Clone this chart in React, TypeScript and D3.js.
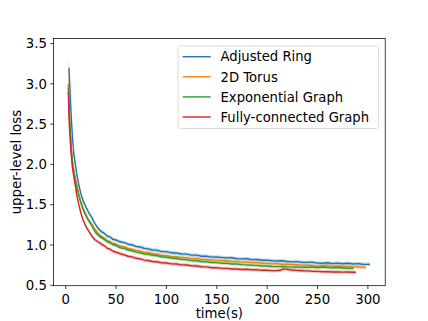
import React from "react";
import * as d3 from "d3";

const W = 428;
const H = 321;

const xTicks = [0, 50, 100, 150, 200, 250, 300];
const yTicks = [0.5, 1.0, 1.5, 2.0, 2.5, 3.0, 3.5];
const seriesNames = ["Adjusted Ring", "2D Torus", "Exponential Graph", "Fully-connected Graph"];
const seriesColors = ["#1f77b4", "#ff7f0e", "#2ca02c", "#d62728"];

const blueTime = [3.3, 5, 6.5, 8, 9.5, 11, 13, 15, 17, 19, 21, 23, 26, 29, 32, 35, 38, 41, 44, 47, 50, 54, 58, 62, 66, 70, 74, 78, 82, 86, 90, 95, 100, 105, 110, 115, 120, 125, 130, 135, 140, 145, 150, 155, 160, 165, 170, 175, 180, 185, 190, 195, 200, 205, 210, 215, 220, 225, 230, 235, 240, 245, 250, 255, 260, 265, 270, 275, 280, 285, 290, 295, 302];
const blueLoss = [3.2, 2.72, 2.38, 2.14, 2.01, 1.88, 1.75, 1.64, 1.56, 1.5, 1.45, 1.4, 1.34, 1.265, 1.21, 1.17, 1.148, 1.112, 1.1, 1.07, 1.062, 1.04, 1.03, 1.01, 1.0, 0.982, 0.975, 0.958, 0.952, 0.938, 0.937, 0.92, 0.918, 0.903, 0.9, 0.888, 0.887, 0.874, 0.874, 0.861, 0.86, 0.85, 0.851, 0.844, 0.84, 0.841, 0.83, 0.828, 0.829, 0.819, 0.82, 0.81, 0.812, 0.804, 0.801, 0.804, 0.795, 0.79, 0.794, 0.785, 0.784, 0.786, 0.775, 0.773, 0.779, 0.769, 0.775, 0.767, 0.773, 0.764, 0.769, 0.761, 0.76];
const blueStd = [0.12, 0.08, 0.05, 0.04, 0.035, 0.03, 0.03, 0.028, 0.026, 0.026, 0.025, 0.025, 0.025, 0.024, 0.024, 0.023, 0.024, 0.022, 0.023, 0.022, 0.022, 0.023, 0.022, 0.022, 0.023, 0.022, 0.022, 0.023, 0.022, 0.022, 0.023, 0.022, 0.022, 0.023, 0.022, 0.022, 0.023, 0.022, 0.022, 0.023, 0.022, 0.022, 0.023, 0.022, 0.022, 0.023, 0.022, 0.022, 0.023, 0.022, 0.022, 0.023, 0.022, 0.022, 0.023, 0.022, 0.022, 0.023, 0.022, 0.022, 0.023, 0.022, 0.022, 0.023, 0.022, 0.022, 0.023, 0.022, 0.022, 0.023, 0.022, 0.022, 0.022];

const orangeTime = [2.5, 4, 5.5, 7, 8.5, 10, 11.5, 13, 15, 17, 19, 21, 23, 26, 29, 32, 35, 38, 41, 44, 47, 50, 54, 58, 62, 66, 70, 74, 78, 82, 86, 90, 95, 100, 105, 110, 115, 120, 125, 130, 135, 140, 145, 150, 155, 160, 165, 170, 175, 180, 185, 190, 195, 200, 205, 210, 215, 220, 225, 230, 235, 240, 245, 250, 255, 260, 265, 270, 275, 280, 285, 290, 295, 298];
const orangeLoss = [3.0, 2.55, 2.22, 2.02, 1.9, 1.81, 1.73, 1.64, 1.55, 1.47, 1.41, 1.355, 1.31, 1.26, 1.195, 1.15, 1.11, 1.088, 1.057, 1.043, 1.018, 1.012, 0.987, 0.978, 0.957, 0.948, 0.932, 0.925, 0.909, 0.907, 0.892, 0.89, 0.873, 0.868, 0.858, 0.854, 0.844, 0.842, 0.831, 0.832, 0.822, 0.82, 0.813, 0.812, 0.804, 0.805, 0.796, 0.797, 0.788, 0.79, 0.782, 0.782, 0.774, 0.774, 0.768, 0.768, 0.761, 0.762, 0.756, 0.757, 0.75, 0.752, 0.746, 0.735, 0.742, 0.745, 0.738, 0.74, 0.733, 0.735, 0.728, 0.73, 0.724, 0.723];
const orangeStd = [0.4, 0.15, 0.08, 0.05, 0.04, 0.035, 0.03, 0.03, 0.028, 0.026, 0.025, 0.025, 0.025, 0.024, 0.024, 0.023, 0.024, 0.022, 0.023, 0.022, 0.022, 0.023, 0.022, 0.022, 0.023, 0.022, 0.022, 0.023, 0.022, 0.022, 0.023, 0.022, 0.022, 0.023, 0.022, 0.022, 0.023, 0.022, 0.022, 0.023, 0.022, 0.022, 0.023, 0.022, 0.022, 0.023, 0.022, 0.022, 0.023, 0.022, 0.022, 0.023, 0.022, 0.022, 0.023, 0.022, 0.022, 0.023, 0.022, 0.022, 0.023, 0.022, 0.022, 0.023, 0.022, 0.022, 0.023, 0.022, 0.022, 0.023, 0.022, 0.022, 0.023, 0.022];

const greenTime = [2.7, 4, 5.5, 7, 8.5, 10, 11.5, 13, 15, 17, 19, 21, 23, 26, 29, 32, 35, 38, 41, 44, 47, 50, 54, 58, 62, 66, 70, 74, 78, 82, 86, 90, 95, 100, 105, 110, 115, 120, 125, 130, 135, 140, 145, 150, 155, 160, 165, 170, 175, 180, 185, 190, 195, 200, 205, 210, 215, 220, 225, 230, 235, 240, 245, 250, 255, 260, 265, 270, 275, 280, 285.7];
const greenLoss = [2.95, 2.55, 2.2, 1.98, 1.86, 1.77, 1.69, 1.61, 1.52, 1.45, 1.39, 1.34, 1.295, 1.24, 1.165, 1.125, 1.095, 1.072, 1.043, 1.028, 1.003, 0.993, 0.966, 0.958, 0.938, 0.928, 0.912, 0.903, 0.888, 0.885, 0.872, 0.87, 0.854, 0.848, 0.838, 0.832, 0.821, 0.817, 0.806, 0.804, 0.795, 0.792, 0.783, 0.782, 0.773, 0.774, 0.764, 0.764, 0.756, 0.754, 0.748, 0.747, 0.74, 0.739, 0.733, 0.732, 0.735, 0.728, 0.726, 0.729, 0.723, 0.723, 0.726, 0.719, 0.727, 0.721, 0.717, 0.72, 0.714, 0.712, 0.71];
const greenStd = [0.3, 0.12, 0.07, 0.05, 0.04, 0.035, 0.03, 0.03, 0.028, 0.026, 0.025, 0.025, 0.025, 0.024, 0.024, 0.023, 0.024, 0.022, 0.023, 0.022, 0.022, 0.023, 0.022, 0.022, 0.023, 0.022, 0.022, 0.023, 0.022, 0.022, 0.023, 0.022, 0.022, 0.023, 0.022, 0.022, 0.023, 0.022, 0.022, 0.023, 0.022, 0.022, 0.023, 0.022, 0.022, 0.023, 0.022, 0.022, 0.023, 0.022, 0.022, 0.023, 0.022, 0.022, 0.023, 0.022, 0.022, 0.023, 0.022, 0.022, 0.023, 0.022, 0.022, 0.023, 0.022, 0.022, 0.023, 0.022, 0.022, 0.023, 0.022];

const redTime = [2.5, 4, 5.3, 6.5, 8, 9.2, 11, 13, 15, 17, 19, 21, 23, 26, 29, 32, 35, 38, 41, 44, 47, 50, 54, 58, 62, 66, 70, 74, 78, 82, 86, 90, 95, 100, 105, 110, 115, 120, 125, 130, 135, 140, 145, 150, 155, 160, 165, 170, 175, 180, 185, 190, 195, 200, 205, 210, 213, 216, 220, 224, 228, 232, 236, 240, 245, 250, 255, 260, 265, 270, 275, 280, 285, 288];
const redLoss = [2.9, 2.4, 2.15, 1.98, 1.85, 1.77, 1.62, 1.5, 1.4, 1.32, 1.26, 1.21, 1.17, 1.11, 1.065, 1.04, 1.015, 0.993, 0.962, 0.948, 0.922, 0.91, 0.892, 0.878, 0.86, 0.852, 0.835, 0.827, 0.812, 0.807, 0.795, 0.792, 0.779, 0.777, 0.766, 0.764, 0.754, 0.752, 0.743, 0.74, 0.73, 0.728, 0.718, 0.717, 0.71, 0.71, 0.703, 0.702, 0.696, 0.699, 0.692, 0.692, 0.686, 0.687, 0.682, 0.683, 0.686, 0.704, 0.698, 0.69, 0.686, 0.684, 0.68, 0.679, 0.674, 0.673, 0.668, 0.67, 0.665, 0.667, 0.663, 0.665, 0.661, 0.662];
const redStd = [0.35, 0.14, 0.07, 0.05, 0.04, 0.035, 0.03, 0.03, 0.028, 0.026, 0.025, 0.025, 0.025, 0.024, 0.024, 0.023, 0.024, 0.022, 0.023, 0.022, 0.022, 0.023, 0.022, 0.022, 0.023, 0.022, 0.022, 0.023, 0.022, 0.022, 0.023, 0.022, 0.022, 0.023, 0.022, 0.022, 0.023, 0.022, 0.022, 0.023, 0.022, 0.022, 0.023, 0.022, 0.022, 0.023, 0.022, 0.022, 0.023, 0.022, 0.022, 0.023, 0.022, 0.022, 0.023, 0.022, 0.022, 0.023, 0.022, 0.022, 0.023, 0.022, 0.022, 0.023, 0.022, 0.022, 0.023, 0.022, 0.022, 0.023, 0.022, 0.022, 0.023, 0.022];

const allTimes = [blueTime, orangeTime, greenTime, redTime];
const allLoss = [blueLoss, orangeLoss, greenLoss, redLoss];
const allStd = [blueStd, orangeStd, greenStd, redStd];

const FONT = "DejaVu Sans";

export default function App() {
  const left = 53.5, right = 385.2, top = 38.5, bottom = 285.7;
  const x = d3.scaleLinear().domain([-12.1, 317.2]).range([left, right]);
  const y = d3.scaleLinear().domain([0.495, 3.562]).range([bottom, top]);

  const series = allTimes.map((ts, i) =>
    ts.map((t, j) => ({ t, v: allLoss[i][j], s: allStd[i][j] }))
  );
  const line = d3.line<any>().x((d) => x(d.t)).y((d) => y(d.v));
  const area = d3
    .area<any>()
    .x((d) => x(d.t))
    .y0((d) => y(d.v - d.s))
    .y1((d) => y(d.v + d.s));

  const legX = 178, legY = 46, legW = 200.5, legH = 82.5;
  const rowY = [56.7, 76.8, 96.9, 117];

  return (
    <svg
      width={W}
      height={H}
      style={{ position: "absolute", left: 0, top: 0, background: "#fff" }}
      fontFamily={FONT}
    >
      <rect x={0} y={0} width={W} height={H} fill="#fff" />
      <defs>
        <clipPath id="plotclip">
          <rect x={left} y={top} width={right - left} height={bottom - top} />
        </clipPath>
      </defs>
      <g clipPath="url(#plotclip)">
        {series.map((d, i) => (
          <g key={i}>
            <path d={area(d) || ""} fill={seriesColors[i]} opacity={0.28} stroke="none" />
            <path d={line(d) || ""} fill="none" stroke={seriesColors[i]} strokeWidth={1.4} strokeLinejoin="round" />
          </g>
        ))}
      </g>
      <rect x={left} y={top} width={right - left} height={bottom - top} fill="none" stroke="#000" strokeWidth={0.75} />
      {xTicks.map((t) => (
        <g key={"x" + t}>
          <line x1={x(t)} x2={x(t)} y1={bottom} y2={bottom + 3.3} stroke="#000" strokeWidth={0.75} />
          <text x={x(t)} y={bottom + 17.8} textAnchor="middle" fontSize={13.3} fill="#000">
            {t}
          </text>
        </g>
      ))}
      {yTicks.map((t) => (
        <g key={"y" + t}>
          <line x1={left - 3.3} x2={left} y1={y(t)} y2={y(t)} stroke="#000" strokeWidth={0.75} />
          <text x={left - 6.5} y={y(t) + 4.8} textAnchor="end" fontSize={13.3} fill="#000">
            {t.toFixed(1)}
          </text>
        </g>
      ))}
      <text x={(left + right) / 2} y={318} textAnchor="middle" fontSize={13.3} fill="#000">
        time(s)
      </text>
      <text
        transform={`translate(21,${(top + bottom) / 2}) rotate(-90)`}
        textAnchor="middle"
        fontSize={13.3}
        fill="#000"
      >
        upper-level loss
      </text>
      <rect x={legX} y={legY} width={legW} height={legH} rx={2.5} fill="#fff" fillOpacity={0.8} stroke="#d0d0d0" strokeWidth={0.75} />
      {seriesNames.map((n, i) => (
        <g key={n}>
          <line x1={182.7} x2={210.7} y1={rowY[i]} y2={rowY[i]} stroke={seriesColors[i]} strokeWidth={1.4} />
          <text x={220.5} y={rowY[i] + 4.7} fontSize={13.2} fill="#000">
            {n}
          </text>
        </g>
      ))}
    </svg>
  );
}
